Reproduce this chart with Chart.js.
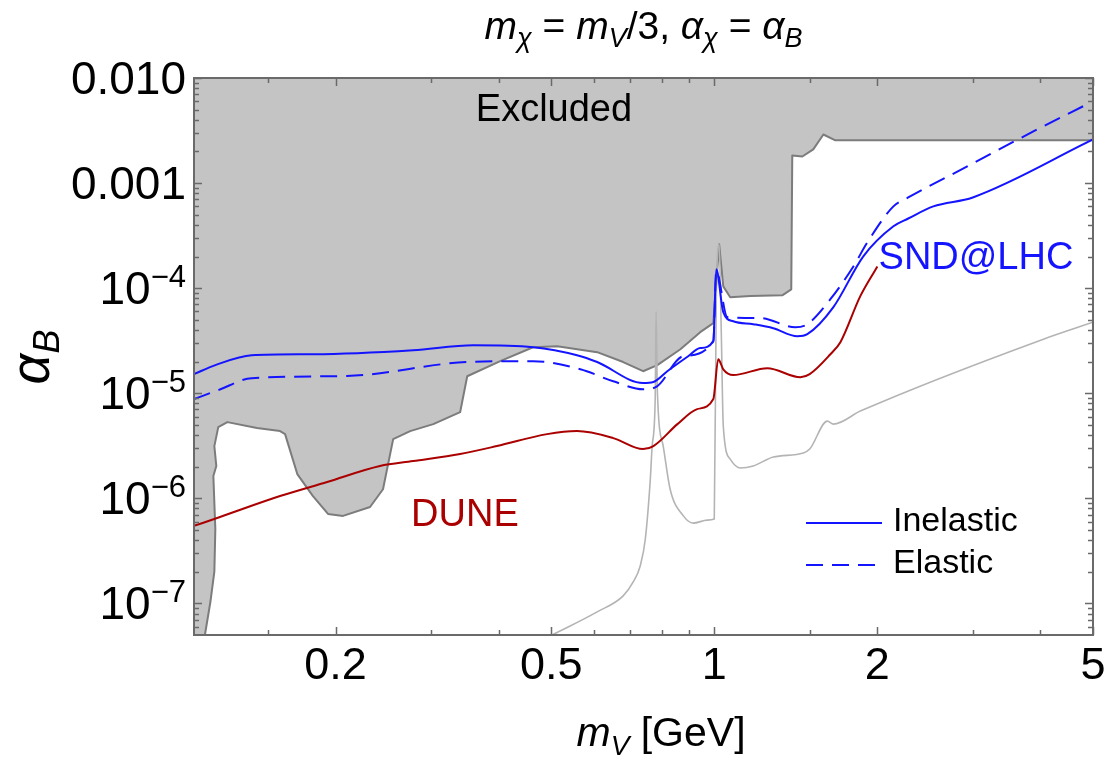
<!DOCTYPE html>
<html>
<head>
<meta charset="utf-8">
<title>alpha_B vs m_V</title>
<script src="https://cdn.jsdelivr.net/npm/chart.js@4/dist/chart.umd.min.js"></script>
<style>
	html, body { margin: 0; padding: 0; background: #ffffff; }
	#wrap { width: 1115px; height: 768px; }
</style>
</head>
<body>
<div id="wrap"><canvas id="plot" width="1115" height="768"></canvas></div>
<script>
/* DATA START -------------------------------- */

// m_V [GeV] and alpha_B

// grey excluded region, lower edge (filled up to the top of the frame)
const excludedX = [0.1096, 0.1148, 0.1175, 0.1195, 0.120, 0.119, 0.1205, 0.1195, 0.1215, 0.1263,
	0.1432, 0.158, 0.1614, 0.170, 0.1817, 0.1937, 0.2065, 0.2316, 0.2447, 0.2555,
	0.2746, 0.303, 0.3396, 0.35, 0.4027, 0.463, 0.513, 0.608, 0.679, 0.739,
	0.785, 0.866, 0.942, 0.996, 1.021, 1.039, 1.070, 1.166, 1.335, 1.387,
	1.393, 1.454, 1.523, 1.590, 1.673, 5];
const excludedY = [5e-8, 5e-8, 1.03e-7, 2.0e-7, 5.1e-7, 1.63e-6, 2.03e-6, 3.14e-6, 4.76e-6, 5.31e-6,
	4.66e-6, 4.36e-6, 4.08e-6, 1.70e-6, 1.05e-6, 7.1e-7, 6.8e-7, 8.26e-7, 1.22e-6, 3.66e-6,
	4.36e-6, 5.08e-6, 6.6e-6, 1.45e-5, 2.02e-5, 2.74e-5, 2.8e-5, 2.46e-5, 1.98e-5, 1.62e-5,
	1.85e-5, 2.62e-5, 3.81e-5, 4.64e-5, 2.61e-4, 1.04e-4, 8.2e-5, 8.4e-5, 8.55e-5, 9.75e-5,
	1.83e-3, 1.79e-3, 2.09e-3, 2.9e-3, 2.55e-3, 2.55e-3];

// SND@LHC, inelastic (solid)
const inelasticX = [0.1096, 0.120, 0.140, 0.1817, 0.278, 0.359, 0.463, 0.558, 0.608, 0.739,
	0.772, 0.819, 0.895, 0.942, 0.996, 1.0085, 1.039, 1.084, 1.18, 1.285,
	1.423, 1.485, 1.659, 1.884, 2.141, 2.28, 2.537, 3.0, 5];
const inelasticY = [1.52e-5, 1.85e-5, 2.3e-5, 2.35e-5, 2.57e-5, 2.86e-5, 2.74e-5, 2.3e-5, 1.98e-5, 1.25e-5,
	1.28e-5, 1.62e-5, 2.25e-5, 2.69e-5, 3.13e-5, 1.51e-4, 5.9e-5, 4.84e-5, 4.54e-5, 4.16e-5,
	3.49e-5, 3.65e-5, 6.6e-5, 2.01e-4, 3.88e-4, 4.6e-4, 6.0e-4, 7.3e-4, 2.6e-3];

// SND@LHC, elastic (dashed)
const elasticX = [0.1096, 0.1215, 0.140, 0.21, 0.35, 0.463, 0.566, 0.651, 0.739, 0.785,
	0.877, 0.996, 1.0085, 1.057, 1.216, 1.411, 1.485, 1.638, 1.806, 1.917,
	2.141, 2.28, 2.93, 3.88, 4.95];
const elasticY = [8.8e-6, 1.07e-5, 1.39e-5, 1.46e-5, 1.98e-5, 2.02e-5, 1.69e-5, 1.3e-5, 1.09e-5, 1.17e-5,
	2.25e-5, 3.13e-5, 1.45e-4, 5.3e-5, 5.2e-5, 4.25e-5, 4.54e-5, 7.85e-5, 1.61e-4, 2.73e-4,
	6.0e-4, 7.3e-4, 1.44e-3, 3.1e-3, 5.85e-3];

// DUNE (dark red)
const duneX = [0.1096, 0.1224, 0.158, 0.193, 0.2415, 0.278, 0.3396, 0.397, 0.4915, 0.558,
	0.651, 0.739, 0.772, 0.855, 0.930, 0.996, 1.017, 1.039, 1.084, 1.253,
	1.442, 1.5, 1.638, 1.709, 1.86, 2.0];
const duneY = [5.46e-7, 6.64e-7, 1.05e-6, 1.43e-6, 2.03e-6, 2.26e-6, 2.64e-6, 3.14e-6, 4.08e-6, 4.36e-6,
	3.74e-6, 2.94e-6, 3.14e-6, 5.08e-6, 7.06e-6, 8.8e-6, 2.11e-5, 1.69e-5, 1.49e-5, 1.73e-5,
	1.42e-5, 1.52e-5, 2.35e-5, 3.06e-5, 8.4e-5, 1.61e-4];

// thin light grey curve
const greyX = [0.502, 0.608, 0.679, 0.7086, 0.730, 0.746, 0.762, 0.768, 0.778, 0.781,
	0.785, 0.805, 0.829, 0.877, 0.915, 0.9707, 1.0, 1.0085, 1.021, 1.03,
	1.039, 1.070, 1.117, 1.18, 1.285, 1.46, 1.5, 1.617, 1.659, 1.86,
	4.05, 5];
const greyY = [5e-8, 8.3e-8, 1.18e-7, 1.6e-7, 2.27e-7, 4.1e-7, 1.52e-6, 3.14e-6, 8.8e-6, 6.0e-5,
	1.09e-5, 3.14e-6, 1.22e-6, 6.8e-7, 5.8e-7, 6.2e-7, 6.35e-7, 7.85e-5, 2.61e-4, 4.07e-5,
	4.87e-6, 2.36e-6, 1.94e-6, 2.03e-6, 2.47e-6, 2.7e-6, 2.94e-6, 5.43e-6, 5.08e-6, 6.76e-6,
	3.27e-5, 4.74e-5];

// axes
const xMin = 0.1096, xMax = 5;
const yMin = 5e-8, yMax = 0.01;
const xMajorTicks = [0.2, 0.5, 1, 2, 5];
const xTickLabels = ['0.2', '0.5', '1', '2', '5'];
const xMinorTicks = [0.15, 0.3, 0.4, 0.6, 0.7, 0.8, 0.9, 1.5, 3, 4];
const yMajorTicks = [1e-7, 1e-6, 1e-5, 1e-4, 1e-3, 1e-2];
const yTickLabels = ['10^\u22127', '10^\u22126', '10^\u22125', '10^\u22124', '0.001', '0.010'];

/* DATA END -------------------------------- */

const BLUE = '#1414ff';
const RED = '#aa0000';
const FONT = '"Liberation Sans", Arial, sans-serif';

function toPoints(xs, ys) {
	return xs.map(function(x, i) { return { x: x, y: ys[i] }; });
}

function fontOf(size, italic) {
	return (italic ? 'italic ' : '') + size + 'px ' + FONT;
}

// draw a row of text pieces (italic, sub/superscript) starting, centred or ending at x
function drawRuns(ctx, runs, x, y, align) {
	let total = 0;
	for (const r of runs) {
		ctx.font = fontOf(r.size, r.it);
		r.w = ctx.measureText(r.t).width;
		total += r.w;
	}
	let cx = x;
	if (align === 'center') cx = x - total / 2;
	if (align === 'right') cx = x - total;
	ctx.textAlign = 'left';
	ctx.textBaseline = 'alphabetic';
	for (const r of runs) {
		ctx.font = fontOf(r.size, r.it);
		ctx.fillText(r.t, cx, y + (r.dy || 0));
		cx += r.w;
	}
	return total;
}

function yMinorTicks() {
	const list = [];
	for (let e = -8; e <= -3; e++) {
		for (let k = 2; k <= 9; k++) {
			const v = k * Math.pow(10, e);
			if (v > yMin * 1.001 && v < yMax * 0.999) list.push(v);
		}
	}
	return list;
}

// frame, ticks, labels, legend - everything that is not a dataset
const decorations = {
	id: 'decorations',
	afterDraw: function(chart) {
		const ctx = chart.ctx;
		const xs = chart.scales.x;
		const ys = chart.scales.y;
		const area = chart.chartArea;

		ctx.save();
		ctx.strokeStyle = '#6a6a6a';
		ctx.lineWidth = 1.5;

		// tick marks on all four sides, pointing inwards
		function xTick(v, len) {
			const p = Math.round(xs.getPixelForValue(v)) + 0.5;
			ctx.beginPath();
			ctx.moveTo(p, area.bottom); ctx.lineTo(p, area.bottom - len);
			ctx.moveTo(p, area.top); ctx.lineTo(p, area.top + len);
			ctx.stroke();
		}
		function yTick(v, len) {
			const p = Math.round(ys.getPixelForValue(v)) + 0.5;
			ctx.beginPath();
			ctx.moveTo(area.left, p); ctx.lineTo(area.left + len, p);
			ctx.moveTo(area.right, p); ctx.lineTo(area.right - len, p);
			ctx.stroke();
		}
		xMajorTicks.forEach(function(v) { xTick(v, 8); });
		xMinorTicks.forEach(function(v) { xTick(v, 5); });
		yMajorTicks.forEach(function(v) { yTick(v, 8); });
		yMinorTicks().forEach(function(v) { yTick(v, 5); });

		// frame
		ctx.lineWidth = 2;
		ctx.strokeRect(area.left, area.top, area.right - area.left, area.bottom - area.top);

		ctx.fillStyle = '#000000';

		// x tick labels
		xMajorTicks.forEach(function(v, i) {
			drawRuns(ctx, [{ t: xTickLabels[i], size: 45 }], xs.getPixelForValue(v), area.bottom + 44, 'center');
		});

		// y tick labels
		yMajorTicks.forEach(function(v, i) {
			const p = ys.getPixelForValue(v);
			const parts = yTickLabels[i].split('^');
			const runs = [{ t: parts[0], size: 46 }];
			if (parts.length > 1) runs.push({ t: parts[1], size: 31, dy: -17 });
			drawRuns(ctx, runs, area.left - 8, p + 16, 'right');
		});

		// axis titles
		drawRuns(ctx, [
			{ t: 'm', size: 41, it: true },
			{ t: 'V', size: 28, it: true, dy: 9 },
			{ t: ' [GeV]', size: 41 }
		], 661, 746, 'center');

		ctx.save();
		ctx.translate(49, 357);
		ctx.rotate(-Math.PI / 2);
		drawRuns(ctx, [
			{ t: '\u03b1', size: 54, it: true },
			{ t: 'B', size: 36, it: true, dy: 10 }
		], 0, 0, 'center');
		ctx.restore();

		// title
		drawRuns(ctx, [
			{ t: 'm', size: 39, it: true },
			{ t: '\u03c7', size: 27, it: true, dy: 8 },
			{ t: ' = ', size: 39 },
			{ t: 'm', size: 39, it: true },
			{ t: 'V', size: 27, it: true, dy: 8 },
			{ t: '/3, ', size: 39 },
			{ t: '\u03b1', size: 39, it: true },
			{ t: '\u03c7', size: 27, it: true, dy: 8 },
			{ t: ' = ', size: 39 },
			{ t: '\u03b1', size: 39, it: true },
			{ t: 'B', size: 27, it: true, dy: 8 }
		], (area.left + area.right) / 2, 39, 'center');

		// region / curve names, placed at data coordinates
		ctx.fillStyle = '#000000';
		drawRuns(ctx, [{ t: 'Excluded', size: 38 }], xs.getPixelForValue(0.363), ys.getPixelForValue(3.86e-3), 'left');
		ctx.fillStyle = BLUE;
		drawRuns(ctx, [{ t: 'SND@LHC', size: 38 }], xs.getPixelForValue(2.01), ys.getPixelForValue(1.51e-4), 'left');
		ctx.fillStyle = RED;
		drawRuns(ctx, [{ t: 'DUNE', size: 38 }], xs.getPixelForValue(0.2757), ys.getPixelForValue(5.46e-7), 'left');

		// legend
		ctx.strokeStyle = BLUE;
		ctx.lineWidth = 2;
		ctx.beginPath();
		ctx.moveTo(806, 523); ctx.lineTo(882, 523);
		ctx.stroke();
		ctx.setLineDash([17, 9]);
		ctx.beginPath();
		ctx.moveTo(806, 565); ctx.lineTo(882, 565);
		ctx.stroke();
		ctx.setLineDash([]);
		ctx.fillStyle = '#000000';
		drawRuns(ctx, [{ t: 'Inelastic', size: 34 }], 893, 531, 'left');
		drawRuns(ctx, [{ t: 'Elastic', size: 34 }], 893, 573, 'left');

		ctx.restore();
	}
};

function buildChart() {
	const ctx = document.getElementById('plot').getContext('2d');

	const data = {
		datasets: [
			{
				label: 'Inelastic',
				data: toPoints(inelasticX, inelasticY),
				borderColor: BLUE,
				borderWidth: 2,
				cubicInterpolationMode: 'monotone',
				order: 1
			},
			{
				label: 'Elastic',
				data: toPoints(elasticX, elasticY),
				borderColor: BLUE,
				borderWidth: 2,
				borderDash: [17, 9],
				cubicInterpolationMode: 'monotone',
				order: 2
			},
			{
				label: 'DUNE',
				data: toPoints(duneX, duneY),
				borderColor: RED,
				borderWidth: 2,
				cubicInterpolationMode: 'monotone',
				order: 3
			},
			{
				label: 'grey',
				data: toPoints(greyX, greyY),
				borderColor: '#b4b4b4',
				borderWidth: 1.6,
				cubicInterpolationMode: 'monotone',
				order: 4
			},
			{
				label: 'Excluded',
				data: toPoints(excludedX, excludedY),
				borderColor: '#7c7c7c',
				borderWidth: 2,
				backgroundColor: '#c4c4c4',
				fill: 'end',
				order: 5
			}
		]
	};

	const hiddenAxis = {
		type: 'logarithmic',
		grid: { display: false },
		border: { display: false },
		ticks: { display: false }
	};

	const options = {
		responsive: false,
		animation: false,
		devicePixelRatio: 1,
		layout: { padding: { top: 78, right: 22, bottom: 0, left: 0 } },
		elements: {
			point: { radius: 0 },
			line: { tension: 0, borderJoinStyle: 'round' }
		},
		scales: {
			x: Object.assign({}, hiddenAxis, {
				min: xMin, max: xMax,
				afterFit: function(scale) { scale.height = 133; }
			}),
			y: Object.assign({}, hiddenAxis, {
				min: yMin, max: yMax,
				afterFit: function(scale) { scale.width = 194; }
			})
		},
		plugins: {
			legend: { display: false },
			tooltip: { enabled: false }
		}
	};

	new Chart(ctx, {
		type: 'line',
		data: data,
		options: options,
		plugins: [decorations]
	});
}

buildChart();
</script>
</body>
</html>
